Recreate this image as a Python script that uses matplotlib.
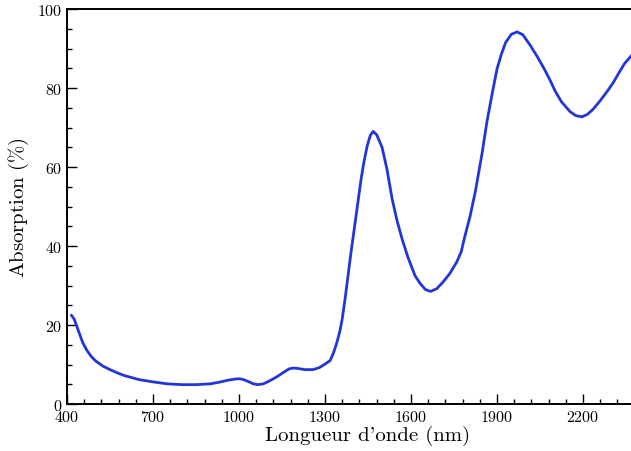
import matplotlib
matplotlib.use("Agg")
import matplotlib.pyplot as plt
from matplotlib.ticker import MultipleLocator

wavelength = [415, 425, 440, 455, 470, 485, 500, 525, 550, 575, 600, 650, 700, 750, 800, 850,
              900, 930, 960, 985, 1000, 1015, 1035, 1050, 1066, 1085, 1105, 1130, 1155, 1175,
              1189, 1205, 1230, 1258, 1280, 1300, 1318, 1330, 1342, 1352, 1360, 1370, 1390,
              1410, 1425, 1435, 1447, 1458, 1468, 1480, 1499, 1516, 1534, 1551, 1570, 1590,
              1614, 1632, 1650, 1668, 1690, 1712, 1735, 1760, 1775, 1788, 1806, 1825, 1848,
              1865, 1883, 1900, 1915, 1930, 1950, 1970, 1990, 2016, 2040, 2062, 2085, 2103,
              2125, 2155, 2175, 2196, 2215, 2235, 2260, 2285, 2305, 2325, 2345, 2370, 2400]
absorption = [22.5, 21.5, 18.5, 15.5, 13.5, 12.0, 10.9, 9.6, 8.7, 7.9, 7.2, 6.2, 5.6, 5.1, 4.9, 4.9,
              5.1, 5.5, 6.0, 6.3, 6.4, 6.2, 5.6, 5.1, 4.9, 5.1, 5.8, 6.8, 8.0, 8.9,
              9.1, 9.0, 8.7, 8.7, 9.2, 10.1, 11.0, 13.0, 15.7, 18.5, 21.5, 26.6, 38.0,
              48.5, 56.5, 61.0, 65.3, 68.0, 69.0, 68.2, 65.0, 59.5, 52.0, 46.5, 41.5, 37.0,
              32.5, 30.5, 29.0, 28.5, 29.2, 30.9, 33.0, 36.0, 38.5, 42.5, 47.5, 54.0, 63.5,
              71.5, 78.5, 84.8, 88.5, 91.5, 93.6, 94.2, 93.5, 90.8, 88.0, 85.2, 82.0, 79.2,
              76.5, 74.0, 73.0, 72.7, 73.3, 74.6, 76.8, 79.2, 81.3, 83.8, 86.2, 88.3, 91.0]

xticks = [400, 700, 1000, 1300, 1600, 1900, 2200]
yticks = [0, 20, 40, 60, 80, 100]

plt.rcParams['font.family'] = ['cmr10', 'DejaVu Serif']
plt.rcParams['mathtext.fontset'] = 'cm'
plt.rcParams['axes.formatter.use_mathtext'] = True

fig = plt.figure(figsize=(6.31, 4.52), dpi=100)
ax = fig.add_axes([67 / 631, 47 / 452, 602 / 631, 395 / 452])

ax.plot(wavelength, absorption, color='#2236d8', linewidth=2.0,
        solid_capstyle='round', solid_joinstyle='round')

ax.set_xlim(400, 2500)
ax.set_ylim(0, 100)
ax.set_xticks(xticks)
ax.set_yticks(yticks)
ax.xaxis.set_minor_locator(MultipleLocator(60, offset=400))
ax.yaxis.set_minor_locator(MultipleLocator(5))
ax.tick_params(which='both', direction='in', top=False, right=False, labelsize=11.5, width=1.0)
ax.tick_params(which='major', length=7)
ax.tick_params(which='minor', length=3.5)
for s in ax.spines.values():
    s.set_linewidth(1.4)

ax.set_xlabel("Longueur d'onde (nm)", fontsize=15, labelpad=1)
ax.set_ylabel(r"$\mathrm{Absorption\ (\%)}$", fontsize=15, labelpad=4)

fig.savefig("out.png", dpi=100)
